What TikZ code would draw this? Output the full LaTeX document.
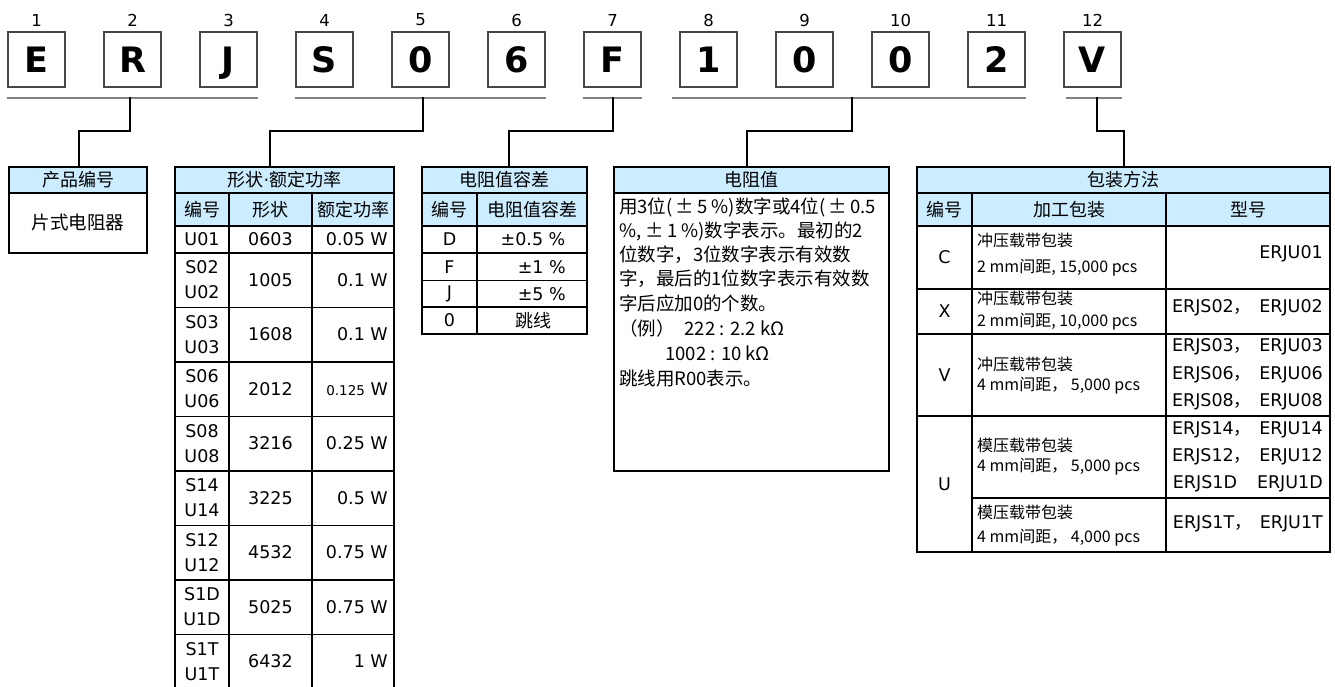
\documentclass[tikz,border=0pt]{standalone}
\usepackage{fontspec}
\setmainfont{DejaVu Sans}
\newfontfamily\cjk{Noto Sans CJK SC}
\definecolor{hdrblue}{RGB}{204,236,255}
\definecolor{boxgray}{RGB}{70,70,70}
\definecolor{linegray}{RGB}{128,128,128}
\newcommand\msep{{\cjk ，}\hspace{8pt}}
\newcommand\mgap{\hspace{20pt}}
\begin{document}
\begin{tikzpicture}[x=1pt,y=-1pt,
  letterbox/.style={draw=boxgray,line width=1.2pt,minimum width=57pt,minimum height=55pt,inner sep=0pt,text height=25.5pt,text depth=0pt,font=\fontsize{35}{35}\selectfont\bfseries},
  numlbl/.style={inner sep=0pt,font=\fontsize{16.5}{16.5}\selectfont},
  uline/.style={draw=linegray,line width=2pt},
  conn/.style={draw=black,line width=2pt},
  tab/.style={draw=black,line width=1.3pt},
  hdr/.style={fill=hdrblue},
  tx/.style={inner sep=0pt,font=\fontsize{17.5}{25}\selectfont,align=center},
  cn/.style={inner sep=0pt,font=\cjk\fontsize{18}{18}\selectfont},
  cnb/.style={inner sep=0pt,anchor=west,font=\cjk\fontsize{18.5}{18.5}\selectfont},
  cns/.style={inner sep=0pt,anchor=west,font=\cjk\fontsize{16}{16}\selectfont},
]
\useasboundingbox (0,0) rectangle (1335,686);
% code boxes
\foreach \i/\c in {1/E,2/R,3/J,4/S,5/0,6/6,7/F,8/1,9/0,10/0,11/2,12/V}{
  \node[letterbox] (b\i) at ({36.5+96*(\i-1)},59.5) {\c};
  \node[numlbl] (n\i) at ({36.5+96*(\i-1)},20) {\i};
}
% group underlines
\draw[uline] ([yshift=-10pt]b1.south west) -- ([yshift=-10pt]b3.south east);
\draw[uline] ([yshift=-10pt]b4.south west) -- ([yshift=-10pt]b6.south east);
\draw[uline] ([yshift=-10pt]b7.south west) -- ([yshift=-10pt]b7.south east);
\draw[uline] ([yshift=-10pt,xshift=-7pt]b8.south west) -- ([yshift=-10pt]b11.south east);
\draw[uline] ([yshift=-10pt,xshift=3pt]b12.south west) -- ([yshift=-10pt]b12.south east);
\coordinate (u1) at (130,97);
\coordinate (u2) at (423,97);
\coordinate (u3) at (613,97);
\coordinate (u4) at (852,97);
\coordinate (u5) at (1097,97);
\coordinate (e1) at (79,167);
\coordinate (e2) at (270,167);
\coordinate (e3) at (509,167);
\coordinate (e4) at (747,167);
\coordinate (e5) at (1124,167);
% ---------- table 1
\fill[hdr] (9,167) rectangle (147,193);
\draw[tab] (9,167) rectangle (147,253);
\draw[tab] (9,193) -- (147,193);
\node[cn] (t1h) at (78,180) {产品编号};
\node[cn,font=\cjk\fontsize{18.5}{18.5}\selectfont] (t1b) at (78,222) {片式电阻器};
% ---------- table 2
\fill[hdr] (175,167) rectangle (394,226);
\draw[tab] (175,700) -- (175,167) -- (394,167) -- (394,700);
\foreach \yy in {193,226,253,307.5,362,416.5,471,525.5,580,634.5}
  \draw[tab] (175,\yy) -- (394,\yy);
\draw[tab] (229,193) -- (229,700);
\draw[tab] (312,193) -- (312,700);
\node[cn] (t2h) at (284.5,180) {形状{\rmfamily ·}额定功率};
\node[cn] (t2c1) at (202,209.5) {编号};
\node[cn] (t2c2) at (270.5,209.5) {形状};
\node[cn] (t2c3) at (353,209.5) {额定功率};
\foreach \k/\a/\b/\c/\yy in {
 1/U01/0603/{0.05 W}/239.5,
 2/{S02\\U02}/1005/{0.1 W}/280,
 3/{S03\\U03}/1608/{0.1 W}/334.5,
 4/{S06\\U06}/2012/{{\fontsize{13.5}{13.5}\selectfont 0.125} W}/389,
 5/{S08\\U08}/3216/{0.25 W}/443.5,
 6/{S14\\U14}/3225/{0.5 W}/498,
 7/{S12\\U12}/4532/{0.75 W}/552.5,
 8/{S1D\\U1D}/5025/{0.75 W}/607,
 9/{S1T\\U1T}/6432/{1 W}/661.5}{
  \node[tx] (r\k-a) at (202,\yy) {\a};
  \node[tx] (r\k-b) at (270.5,\yy) {\b};
  \node[tx,anchor=east] (r\k-c) at (388,\yy) {\c};
}
% ---------- table 3
\fill[hdr] (422,167) rectangle (587,226);
\draw[tab] (422,167) rectangle (587,334);
\foreach \yy in {193,226,253,280.5,307}
  \draw[tab] (422,\yy) -- (587,\yy);
\draw[tab] (477,193) -- (477,334);
\node[cn] (t3h) at (504.5,180) {电阻值容差};
\node[cn] (t3c1) at (449.5,209.5) {编号};
\node[cn] (t3c2) at (532,209.5) {电阻值容差};
\foreach \k/\a/\yy in {1/D/239.5,2/F/266.75,3/J/293.75,4/0/320.5}
  \node[tx] (q\k-a) at (449.5,\yy) {\a};
\node[tx] (q1-b) at (533,239.5) {±0.5 \%};
\node[tx,anchor=east] (q2-b) at (566,266.75) {±1 \%};
\node[tx,anchor=east] (q3-b) at (566,293.75) {±5 \%};
\node[cn] (q4-b) at (533,320.5) {跳线};
% ---------- table 4
\fill[hdr] (614,167) rectangle (889,193);
\draw[tab] (614,167) rectangle (889,471);
\draw[tab] (614,193) -- (889,193);
\node[cn] (t4h) at (751.5,180) {电阻值};
\node[cnb] (l1) at (619,207) {用3位(\,±\,5 \%)数字或4位(\,±\,0.5};
\node[cnb] (l2) at (619,231) {\%, ±\,1 \%)数字表示。最初的2};
\node[cnb] (l3) at (619,255) {位数字，3位数字表示有效数};
\node[cnb] (l4) at (619,279) {字，最后的1位数字表示有效数};
\node[cnb] (l5) at (619,303) {字后应加0的个数。};
\node[cnb] (l6) at (619,328) {（例）\hspace{10pt}222 : 2.2 kΩ};
\node[cnb] (l7) at (619,353) {\hspace*{46pt}1002 : 10 kΩ};
\node[cnb] (l8) at (619,378) {跳线用R00表示。};
% ---------- table 5
\fill[hdr] (917,167) rectangle (1330,226);
\draw[tab] (917,167) rectangle (1330,552);
\foreach \yy in {193,226,289,334,416}
  \draw[tab] (917,\yy) -- (1330,\yy);
\draw[tab] (972,498) -- (1330,498);
\draw[tab] (972,193) -- (972,552);
\draw[tab] (1166,193) -- (1166,552);
\node[cn] (t5h) at (1123.5,180) {包装方法};
\node[cn] (t5c1) at (944.5,209.5) {编号};
\node[cn] (t5c2) at (1069,209.5) {加工包装};
\node[cn] (t5c3) at (1248,209.5) {型号};
\node[tx] (p1-a) at (944.5,257.5) {C};
\node[tx] (p2-a) at (944.5,311.5) {X};
\node[tx] (p3-a) at (944.5,375) {V};
\node[tx] (p4-a) at (944.5,484) {U};
\node[cns] (p1-b1) at (977,240) {冲压载带包装};
\node[cns] (p1-b2) at (977,268) {2 mm间距, 15,000 pcs};
\node[cns] (p2-b1) at (977,298) {冲压载带包装};
\node[cns] (p2-b2) at (977,322) {2 mm间距, 10,000 pcs};
\node[cns] (p3-b1) at (977,364) {冲压载带包装};
\node[cns] (p3-b2) at (977,386) {4 mm间距， 5,000 pcs};
\node[cns] (p4-b1) at (977,445) {模压载带包装};
\node[cns] (p4-b2) at (977,467) {4 mm间距， 5,000 pcs};
\node[cns] (p5-b1) at (977,512) {模压载带包装};
\node[cns] (p5-b2) at (977,538) {4 mm间距， 4,000 pcs};
\node[tx,anchor=east] (p1-c) at (1323,254) {ERJU01};
\node[tx,anchor=east] (p2-c) at (1323,308) {ERJS02\msep ERJU02};
\node[tx,anchor=east] (p3-c1) at (1323,347) {ERJS03\msep ERJU03};
\node[tx,anchor=east] (p3-c2) at (1323,375) {ERJS06\msep ERJU06};
\node[tx,anchor=east] (p3-c3) at (1323,402) {ERJS08\msep ERJU08};
\node[tx,anchor=east] (p4-c1) at (1323,430) {ERJS14\msep ERJU14};
\node[tx,anchor=east] (p4-c2) at (1323,457) {ERJS12\msep ERJU12};
\node[tx,anchor=east] (p4-c3) at (1323,484) {ERJS1D\mgap ERJU1D};
\node[tx,anchor=east] (p5-c) at (1323,524) {ERJS1T\msep ERJU1T};
% ---------- connectors
\draw[conn] (u1) -- ++(0,34) -| (e1);
\draw[conn] (u2) -- ++(0,34) -| (e2);
\draw[conn] (u3) -- ++(0,34) -| (e3);
\draw[conn] (u4) -- ++(0,34) -| (e4);
\draw[conn] (u5) -- ++(0,34) -| (e5);
\end{tikzpicture}
\end{document}
